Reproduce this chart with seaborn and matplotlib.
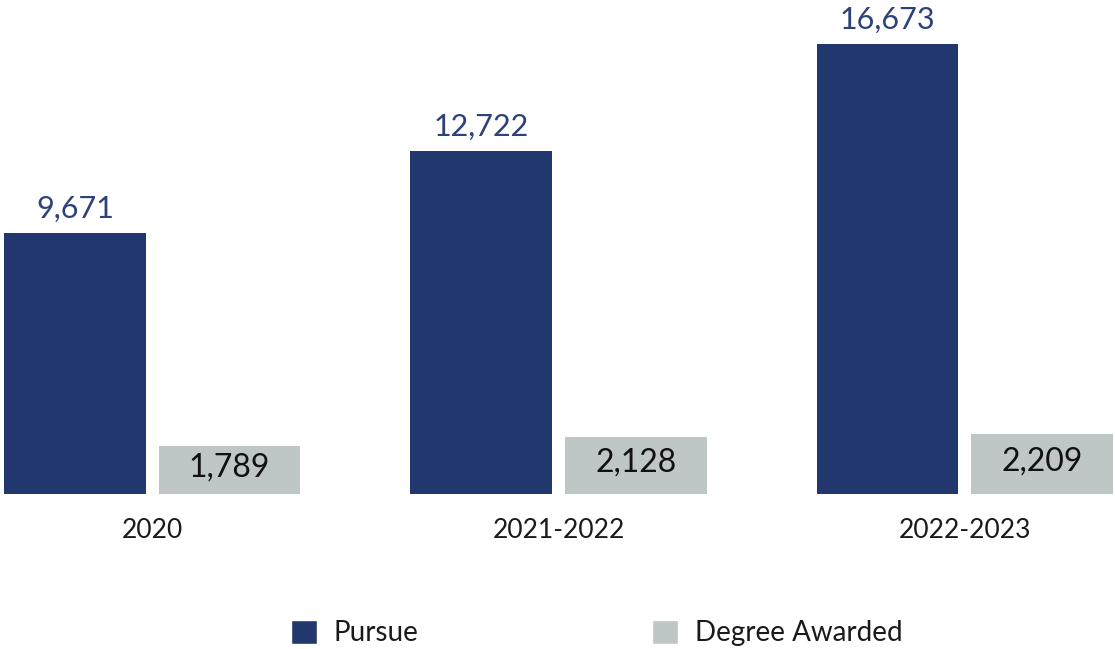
import numpy as np
import pandas as pd
import seaborn as sns
from matplotlib import pyplot as plt
from matplotlib.patches import Patch

# values
years = ['2020', '2021-2022', '2022-2023']
pursue = [9671, 12722, 16673]
awarded = [1789, 2128, 2209]
series = ['Pursue', 'Degree Awarded']
colors = ['#22376D', '#BEC6C6']

df = pd.DataFrame({
    'year': years * 2,
    'count': pursue + awarded,
    'group': [series[0]] * len(years) + [series[1]] * len(years),
})

sns.set_style('white')
plt.rcParams['font.family'] = ['Lato', 'DejaVu Sans']

fig = plt.figure(figsize=(11.15, 6.49), dpi=100)
ax = fig.add_axes([0, 0.2388, 1, 0.7612])

sns.barplot(data=df, x='year', y='count', hue='group', palette=colors,
            width=0.76, gap=0.081, ax=ax, legend=False, saturation=1,
            linewidth=0)

ax.set_xlim(-0.375, 2.37)
ax.set_ylim(0, 18300)
for s in ax.spines.values():
    s.set_visible(False)
ax.set_yticks([])
ax.set_xlabel('')
ax.set_ylabel('')
ax.tick_params(axis='x', length=0, pad=17, labelsize=19, labelcolor='#1a1a1a')

# value labels: above navy bars, inside grey bars
for i, cont in enumerate(ax.containers):
    for bar, v in zip(cont, [pursue, awarded][i]):
        cx = bar.get_x() + bar.get_width() / 2
        if i == 0:
            ax.annotate(f'{v:,}', (cx, bar.get_height()), xytext=(0, 7),
                        textcoords='offset points', ha='center', va='bottom',
                        fontsize=22, color='#2E4179')
        else:
            ax.annotate(f'{v:,}', (cx, bar.get_height() / 2), xytext=(0, 2),
                        textcoords='offset points', ha='center', va='center',
                        fontsize=23, color='#111111')

handles = [Patch(facecolor=c, label=l) for c, l in zip(colors, series)]
fig.legend(handles=handles, loc='center', bbox_to_anchor=(0.535, 0.0247),
           ncol=2, frameon=False, fontsize=20, handlelength=0.94,
           handleheight=0.94, handletextpad=0.6, columnspacing=8.4,
           labelcolor='#1a1a1a')

plt.savefig('out.png', dpi=100)
